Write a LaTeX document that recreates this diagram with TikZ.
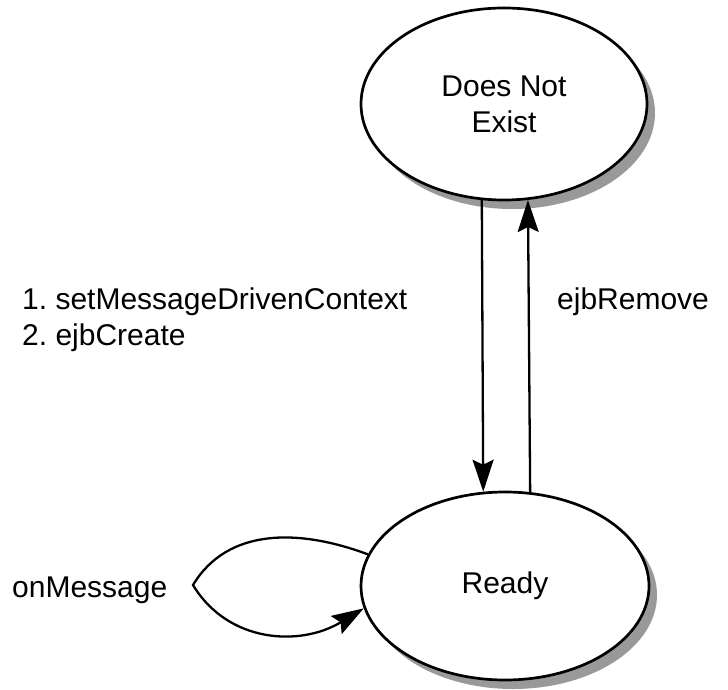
\documentclass[tikz,border=0pt]{standalone}
\usepackage{fontspec}
\setmainfont{Liberation Sans}
\usetikzlibrary{arrows.meta,shapes.geometric,shadows}
\begin{document}
\frenchspacing
\begin{tikzpicture}[x=1pt,y=1pt,
  state/.style={ellipse,draw=black,line width=2.7pt,fill=white,inner sep=0pt,
    font=\fontsize{30}{36}\selectfont,align=center,
    drop shadow={shadow xshift=8pt,shadow yshift=-9pt,fill=black!40,opacity=1}},
  lbl/.style={font=\fontsize{30}{35.5}\selectfont,align=left,inner sep=0pt},
  conn/.style={line width=2.3pt,-{Stealth[length=32pt,width=21pt,inset=5pt]}}]
\useasboundingbox (0,0) rectangle (728,689);
\node[state,minimum width=286pt,minimum height=192pt] (dne) at (504,585) {Does Not\\Exist};
\node[state,minimum width=288pt,minimum height=188pt] (ready) at (505,103) {Ready};
\draw[conn] (dne.257) -- (ready.103.9);
\draw[conn] (ready.75.5) -- (dne.284.8);
\node[lbl,anchor=west] (create) at (22,369.5) {1. setMessageDrivenContext\\2. ejbCreate};
\node[lbl,anchor=west] (remove) at (557,387) {ejbRemove};
\node[lbl,anchor=west] (onmsg) at (12,99) {onMessage};
\coordinate (tip) at (193,104);
\draw[conn] (ready.167) .. controls (300,160) and (228,162) .. (tip)
  .. controls (228,46) and (300,42) .. (ready.189);
\end{tikzpicture}
\end{document}
